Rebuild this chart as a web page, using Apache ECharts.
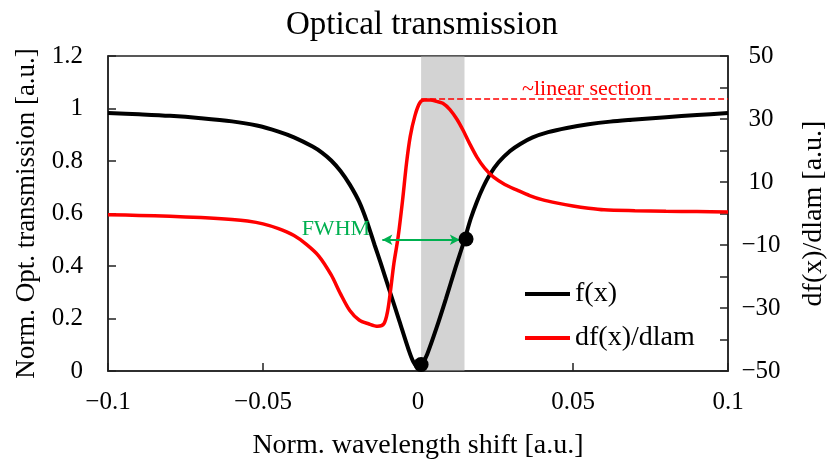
<!DOCTYPE html>
<html>
<head>
<meta charset="utf-8">
<script src="https://cdn.jsdelivr.net/npm/echarts@6/dist/echarts.min.js"></script>
<style>
  html, body { margin: 0; padding: 0; background: #fff; }
  #chart { width: 830px; height: 461px; }
</style>
</head>
<body>
<div id="chart"></div>
<script>
// Texts
const titleText = 'Optical transmission';
const xName = 'Norm. wavelength shift [a.u.]';
const yLeftName = 'Norm. Opt. transmission [a.u.]';
const yRightName = 'df(x)/dlam [a.u.]';
const seriesNames = ['f(x)', 'df(x)/dlam'];

// Transmission f(x) against normalised wavelength shift
const shift = [-0.1, -0.09, -0.08, -0.07, -0.06, -0.052, -0.045, -0.04, -0.034, -0.031,
  -0.028, -0.025, -0.022, -0.019, -0.0165, -0.014, -0.012, -0.009, -0.006, -0.003,
  -0.0015, 0, 0.0015, 0.003, 0.006, 0.009, 0.012, 0.015, 0.017, 0.019,
  0.021, 0.023, 0.026, 0.0297, 0.033, 0.037, 0.042, 0.048, 0.055, 0.062,
  0.069, 0.08, 0.09, 0.1];
const transmission = [0.983, 0.978, 0.972, 0.963, 0.951, 0.935, 0.912, 0.89, 0.855, 0.832,
  0.802, 0.762, 0.71, 0.645, 0.57, 0.48, 0.41, 0.30, 0.19, 0.08,
  0.035, 0.015, 0.03, 0.065, 0.165, 0.275, 0.39, 0.50, 0.58, 0.645,
  0.70, 0.745, 0.795, 0.838, 0.865, 0.89, 0.91, 0.926, 0.94, 0.95,
  0.957, 0.967, 0.975, 0.983];

// Derivative df(x)/dlam (right axis)
const derivShift = [-0.1, -0.09, -0.08, -0.07, -0.06, -0.055, -0.05, -0.045, -0.04, -0.036,
  -0.032, -0.028, -0.025, -0.022, -0.019, -0.016, -0.013, -0.011, -0.0098, -0.0088,
  -0.0078, -0.0064, -0.005, -0.0037, -0.0025, -0.001, 0.0005, 0.002, 0.004, 0.006,
  0.008, 0.0103, 0.0125, 0.0145, 0.0165, 0.019, 0.0215, 0.0243, 0.028, 0.032,
  0.036, 0.04, 0.045, 0.05, 0.055, 0.06, 0.07, 0.08, 0.09, 0.1];
const derivative = [-0.4, -0.6, -0.9, -1.3, -1.9, -2.4, -3.3, -4.8, -7.0, -9.8,
  -13.5, -19.5, -25.5, -30.8, -33.8, -35.0, -35.8, -35.0, -31, -24,
  -16, -7.4, 4, 16, 24.5, 31, 35, 36, 36, 35.6,
  35, 33, 30, 26.5, 22.5, 17.9, 14.4, 11.6, 9.2, 7.4,
  5.7, 4.4, 3.3, 2.4, 1.7, 1.2, 0.9, 0.7, 0.6, 0.5];

// Highlighted linear section, FWHM marker and marked points
const linearBand = [0.001, 0.015];
const linearLevel = 36.3;
const linearLabel = '~linear section';
const linearLabelAt = [0.0545, 39.5];
const fwhmEnds = [-0.0115, 0.0135];
const fwhmLevel = 0.5;
const fwhmLabel = 'FWHM';
const fwhmLabelAt = [-0.0265, 0.541];
const markedShift = [0.001, 0.0155];
const markedTransmission = [0.025, 0.503];

const FONT = 'Liberation Serif';
const GREEN = '#00B050';
const AXIS = '#222';

const fmt = v => {
  const r = Math.round(v * 1000) / 1000;
  return String(r).replace('-', '\u2212');
};

const chart = echarts.init(document.getElementById('chart'), null, { renderer: 'canvas' });

const axisCommon = {
  axisLine: { show: true, onZero: false, lineStyle: { color: AXIS, width: 1.5 } },
  axisTick: { show: true, inside: true, length: 8, lineStyle: { color: AXIS, width: 1.5 } },
  splitLine: { show: false }
};

const option = {
  animation: false,
  backgroundColor: '#fff',
  title: {
    text: titleText,
    left: 417,
    top: 4,
    textAlign: 'center',
    textStyle: { fontFamily: FONT, fontSize: 33, fontWeight: 'normal', color: '#000' }
  },
  grid: {
    left: 108, right: 102, top: 56, bottom: 90,
    outerBoundsMode: 'none',
    containLabel: false,
    show: true, borderColor: AXIS, borderWidth: 1.5, backgroundColor: 'transparent'
  },
  legend: {
    data: [
      { name: seriesNames[0], icon: 'rect' },
      { name: seriesNames[1], icon: 'rect' }
    ],
    orient: 'vertical',
    left: 520, top: 275,
    itemWidth: 45, itemHeight: 4, itemGap: 16,
    textStyle: { fontFamily: FONT, fontSize: 28, color: '#000' }
  },
  xAxis: Object.assign({
    type: 'value', min: -0.1, max: 0.1, interval: 0.05,
    name: xName, nameLocation: 'middle', nameGap: 61,
    nameTextStyle: { fontFamily: FONT, fontSize: 28, color: '#000' },
    axisLabel: { formatter: fmt, margin: 19, fontFamily: FONT, fontSize: 25, color: '#000' }
  }, axisCommon),
  yAxis: [
    Object.assign({
      type: 'value', min: 0, max: 1.2, interval: 0.2, position: 'left',
      name: yLeftName, nameLocation: 'middle', nameGap: 66, nameRotate: 90,
      nameTextStyle: { fontFamily: FONT, fontSize: 27, color: '#000' },
      axisLabel: { formatter: fmt, margin: 25, fontFamily: FONT, fontSize: 25, color: '#000' }
    }, axisCommon),
    Object.assign({
      type: 'value', min: -50, max: 50, interval: 10, position: 'right',
      name: yRightName, nameLocation: 'middle', nameGap: 72, nameRotate: 90,
      nameTextStyle: { fontFamily: FONT, fontSize: 28, color: '#000' },
      axisLabel: {
        formatter: v => (Math.abs(Math.round(v)) % 20 === 10 ? fmt(v) : ''),
        margin: 33, align: 'center',
        fontFamily: FONT, fontSize: 25, color: '#000'
      }
    }, axisCommon)
  ],
  series: [
    {
      name: seriesNames[0], type: 'line', yAxisIndex: 0, z: 2,
      data: shift.map((x, i) => [x, transmission[i]]),
      showSymbol: false, smooth: 0.3,
      itemStyle: { color: '#000' },
      lineStyle: { color: '#000', width: 4 }
    },
    {
      name: seriesNames[1], type: 'line', yAxisIndex: 1, z: 2,
      data: derivShift.map((x, i) => [x, derivative[i]]),
      showSymbol: false, smooth: 0.3,
      itemStyle: { color: '#FF0000' },
      lineStyle: { color: '#FF0000', width: 3.5 }
    },
    {
      // translucent band over the linear section
      name: 'band', type: 'line', yAxisIndex: 0, z: 3, data: [],
      markArea: {
        silent: true,
        itemStyle: { color: 'rgba(168,168,168,0.5)' },
        data: [[{ xAxis: linearBand[0] }, { xAxis: linearBand[1] }]]
      }
    },
    {
      // dashed level of the derivative plateau and its caption
      name: 'linear', type: 'line', yAxisIndex: 1, z: 4, data: [],
      markLine: {
        silent: true, symbol: ['none', 'none'],
        lineStyle: { color: '#FF0000', type: [6, 3], width: 1.5 },
        label: { show: false },
        data: [[{ coord: [linearBand[0], linearLevel] }, { coord: [0.1, linearLevel] }]]
      },
      markPoint: {
        silent: true, symbol: 'circle', symbolSize: 0,
        label: {
          show: true, position: 'inside', formatter: linearLabel,
          fontFamily: FONT, fontSize: 22, color: '#FF0000'
        },
        data: [{ coord: linearLabelAt }]
      }
    },
    {
      // full width at half maximum arrow and caption
      name: 'fwhm', type: 'line', yAxisIndex: 0, z: 5, data: [],
      markLine: {
        silent: true, symbol: ['arrow', 'arrow'], symbolSize: [8, 10],
        lineStyle: { color: GREEN, type: 'solid', width: 2 },
        label: { show: false },
        data: [[{ coord: [fwhmEnds[0], fwhmLevel] }, { coord: [fwhmEnds[1], fwhmLevel] }]]
      },
      markPoint: {
        silent: true, symbol: 'circle', symbolSize: 0,
        label: {
          show: true, position: 'inside', formatter: fwhmLabel,
          fontFamily: FONT, fontSize: 22, color: GREEN
        },
        data: [{ coord: fwhmLabelAt }]
      }
    },
    {
      name: 'points', type: 'scatter', yAxisIndex: 0, z: 6,
      data: markedShift.map((x, i) => [x, markedTransmission[i]]),
      symbol: 'circle', symbolSize: 15,
      itemStyle: { color: '#000', opacity: 1 }
    }
  ]
};

chart.setOption(option);
</script>
</body>
</html>
